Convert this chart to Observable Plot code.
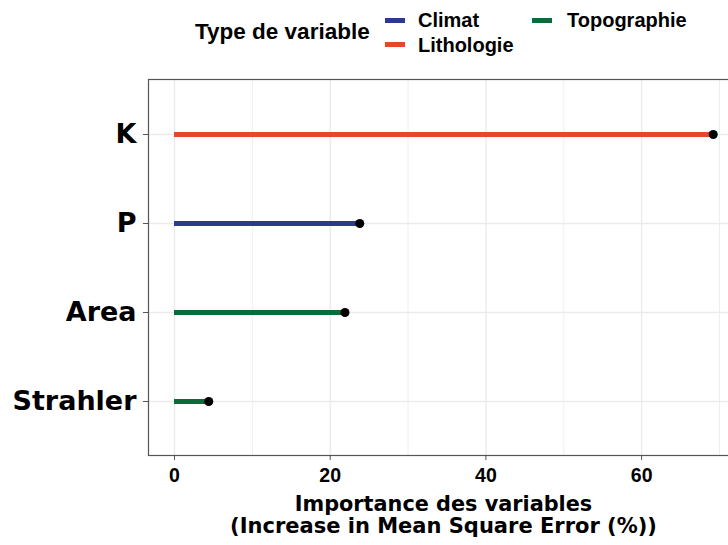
<!DOCTYPE html>
<html>
<head>
<meta charset="utf-8">
<script src="https://cdn.jsdelivr.net/npm/d3@7"></script>
<script src="https://cdn.jsdelivr.net/npm/@observablehq/plot@0.6"></script>
<style>
  html, body { margin: 0; padding: 0; background: #fff; }
  #wrap { position: relative; width: 728px; height: 545px; overflow: hidden; }
  #chart { position: absolute; left: 0; top: 0; width: 740px; }
  #chart svg { max-width: none !important; }
  .lg { position: absolute; font-family: "Liberation Sans", Arial, sans-serif; font-weight: bold; font-size: 20px; color: #000; white-space: nowrap; line-height: 24px; }
  .key { position: absolute; height: 5px; width: 20px; }
  .xt { position: absolute; left: 148px; width: 591px; text-align: center; font-family: "DejaVu Sans", sans-serif; font-weight: bold; font-size: 20px; line-height: 26px; color: #000; white-space: nowrap; }
</style>
</head>
<body>
<div id="wrap">
  <div id="chart"></div>
</div>
<script>
// Data
const variables = ["K", "P", "Area", "Strahler"];
const importance = [69.2, 23.8, 21.9, 4.4];
const types = ["Lithologie", "Climat", "Topographie", "Topographie"];
const typeDomain = ["Climat", "Lithologie", "Topographie"];
const typeColors = ["#2b3990", "#e8452c", "#0b6b3a"];
const xMajorTicks = [0, 20, 40, 60];
const xMinorTicks = [10, 30, 50, 70];
const legendTitle = "Type de variable";
const xTitle1 = "Importance des variables";
const xTitle2 = "(Increase in Mean Square Error (%))";

const data = variables.map((v, i) => ({variable: v, value: importance[i], type: types[i]}));

const W = 740, H = 545;
const plot = Plot.plot({
  width: W,
  height: H,
  marginLeft: 148,
  marginRight: 0,
  marginTop: 79,
  marginBottom: 90,
  style: {maxWidth: "none"},
  x: {domain: [-3.34, 72.7]},
  y: {type: "point", domain: variables, padding: 0.6},
  color: {domain: typeDomain, range: typeColors},
  marks: [
    Plot.ruleX(xMinorTicks, {stroke: "#ebebeb", strokeWidth: 0.8}),
    Plot.ruleX(xMajorTicks, {stroke: "#ebebeb", strokeWidth: 1.4}),
    Plot.ruleY(variables, {y: d => d, stroke: "#ebebeb", strokeWidth: 1.4}),
    Plot.frame({stroke: "#555", strokeWidth: 1.2}),
    Plot.axisX(xMajorTicks, {
      anchor: "bottom", tickSize: 5, tickPadding: 8, stroke: "#555",
      fontSize: 19.5, fontWeight: "bold", fontFamily: "Liberation Sans, Arial, sans-serif",
      fill: "#000", label: null, tickFormat: d => String(d)
    }),
    Plot.axisY(variables, {
      anchor: "left", tickSize: 5, tickPadding: 7, stroke: "#555",
      fontSize: 27, fontWeight: "bold", fontFamily: "DejaVu Sans, sans-serif",
      fill: "#000", label: null
    }),
    Plot.ruleY(data, {y: "variable", x1: 0, x2: "value", stroke: "type", strokeWidth: 5}),
    Plot.dot(data, {x: "value", y: "variable", r: 4.5, fill: "#000", stroke: null})
  ]
});
const wrap = document.getElementById("wrap");
document.getElementById("chart").appendChild(plot);

// Legend (HTML)
function addText(txt, left, top, cls, size) {
  const d = document.createElement("div");
  d.className = cls; d.textContent = txt;
  d.style.left = left + "px"; d.style.top = top + "px";
  if (size) d.style.fontSize = size + "px";
  wrap.appendChild(d);
  return d;
}
addText(legendTitle, 195, 20, "lg", 22.5);
const keyPos = {
  "Climat": [385, 18, 418, 8],
  "Lithologie": [385, 42, 418, 33],
  "Topographie": [532, 18, 567, 8]
};
typeDomain.forEach((t, i) => {
  const [kx, ky, tx, ty] = keyPos[t];
  const k = document.createElement("div");
  k.className = "key";
  k.style.left = kx + "px"; k.style.top = ky + "px";
  k.style.background = typeColors[i];
  wrap.appendChild(k);
  addText(t, tx, ty, "lg");
});

// X axis title
addText(xTitle1, 148, 491, "xt", 20.8);
addText(xTitle2, 148, 513, "xt", 21);
</script>
</body>
</html>
